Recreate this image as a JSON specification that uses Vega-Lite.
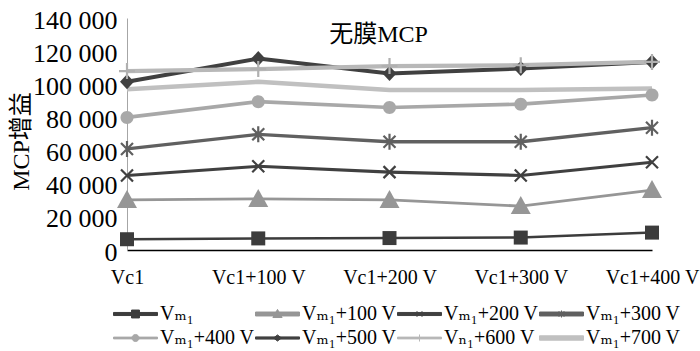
{
  "$schema": "https://vega.github.io/schema/vega-lite/v6.json",
  "width": 525,
  "height": 232,
  "autosize": "none",
  "padding": {"left": 127, "top": 18, "right": 48, "bottom": 101},
  "background": "white",
  "config": {"view": {"stroke": null}, "font": "'Liberation Serif', 'DejaVu Serif', 'Noto Sans CJK SC'"},
  "title": {"text": "无膜MCP", "fontSize": 24, "font": "'Liberation Serif', 'DejaVu Serif', 'Noto Sans CJK SC'", "fontWeight": "normal", "color": "black", "anchor": "middle", "frame": "group", "offset": -59, "baseline": "alphabetic", "dx": -11},
  "data": {"values": [
    {"series": "Vₘ₁", "x": "Vc1", "y": 6500},
    {"series": "Vₘ₁", "x": "Vc1+100 V", "y": 7000},
    {"series": "Vₘ₁", "x": "Vc1+200 V", "y": 7200},
    {"series": "Vₘ₁", "x": "Vc1+300 V", "y": 7500},
    {"series": "Vₘ₁", "x": "Vc1+400 V", "y": 10500},
    {"series": "Vₘ₁+100 V", "x": "Vc1", "y": 30200},
    {"series": "Vₘ₁+100 V", "x": "Vc1+100 V", "y": 30800},
    {"series": "Vₘ₁+100 V", "x": "Vc1+200 V", "y": 30200},
    {"series": "Vₘ₁+100 V", "x": "Vc1+300 V", "y": 26500},
    {"series": "Vₘ₁+100 V", "x": "Vc1+400 V", "y": 36200},
    {"series": "Vₘ₁+200 V", "x": "Vc1", "y": 45000},
    {"series": "Vₘ₁+200 V", "x": "Vc1+100 V", "y": 50500},
    {"series": "Vₘ₁+200 V", "x": "Vc1+200 V", "y": 47000},
    {"series": "Vₘ₁+200 V", "x": "Vc1+300 V", "y": 45000},
    {"series": "Vₘ₁+200 V", "x": "Vc1+400 V", "y": 53000},
    {"series": "Vₘ₁+300 V", "x": "Vc1", "y": 61000},
    {"series": "Vₘ₁+300 V", "x": "Vc1+100 V", "y": 69800},
    {"series": "Vₘ₁+300 V", "x": "Vc1+200 V", "y": 65300},
    {"series": "Vₘ₁+300 V", "x": "Vc1+300 V", "y": 65300},
    {"series": "Vₘ₁+300 V", "x": "Vc1+400 V", "y": 73800},
    {"series": "Vₘ₁+400 V", "x": "Vc1", "y": 80000},
    {"series": "Vₘ₁+400 V", "x": "Vc1+100 V", "y": 89500},
    {"series": "Vₘ₁+400 V", "x": "Vc1+200 V", "y": 86000},
    {"series": "Vₘ₁+400 V", "x": "Vc1+300 V", "y": 88000},
    {"series": "Vₘ₁+400 V", "x": "Vc1+400 V", "y": 93500},
    {"series": "Vₘ₁+500 V", "x": "Vc1", "y": 101500},
    {"series": "Vₘ₁+500 V", "x": "Vc1+100 V", "y": 115500},
    {"series": "Vₘ₁+500 V", "x": "Vc1+200 V", "y": 106500},
    {"series": "Vₘ₁+500 V", "x": "Vc1+300 V", "y": 109500},
    {"series": "Vₘ₁+500 V", "x": "Vc1+400 V", "y": 113500},
    {"series": "Vₙ₁+600 V", "x": "Vc1", "y": 108000},
    {"series": "Vₙ₁+600 V", "x": "Vc1+100 V", "y": 109200},
    {"series": "Vₙ₁+600 V", "x": "Vc1+200 V", "y": 111000},
    {"series": "Vₙ₁+600 V", "x": "Vc1+300 V", "y": 111500},
    {"series": "Vₙ₁+600 V", "x": "Vc1+400 V", "y": 113500},
    {"series": "Vₘ₁+700 V", "x": "Vc1", "y": 97000},
    {"series": "Vₘ₁+700 V", "x": "Vc1+100 V", "y": 101500},
    {"series": "Vₘ₁+700 V", "x": "Vc1+200 V", "y": 96500},
    {"series": "Vₘ₁+700 V", "x": "Vc1+300 V", "y": 96500},
    {"series": "Vₘ₁+700 V", "x": "Vc1+400 V", "y": 97500}
  ]},
  "encoding": {
    "x": {"field": "x", "type": "ordinal", "sort": ["Vc1", "Vc1+100 V", "Vc1+200 V", "Vc1+300 V", "Vc1+400 V"], "scale": {"type": "point", "padding": 0},
      "axis": {"title": null, "labelAngle": 0, "labelFontSize": 20, "labelColor": "black", "labelPadding": 17, "ticks": false, "grid": false, "domainColor": "black", "domainWidth": 1.5}},
    "y": {"field": "y", "type": "quantitative", "scale": {"domain": [0, 140000], "nice": false},
      "axis": {"title": "MCP增益", "titleFontSize": 24, "titleFontWeight": "normal", "titleColor": "black", "titleAngle": 270, "titleBaseline": "alphabetic", "titleAlign": "center", "titleX": -99, "titleY": 123,
        "values": [0, 20000, 40000, 60000, 80000, 100000, 120000, 140000], "labelExpr": "replace(format(datum.value, ','), ',', ' ')",
        "labelFontSize": 26, "labelColor": "black", "labelPadding": 10, "labelOffset": 2, "ticks": false, "grid": false, "domainColor": "#a6a6a6", "domainWidth": 1}}
  },
  "layer": [
    {
      "mark": {"type": "line"},
      "encoding": {
        "color": {"field": "series", "type": "nominal", "legend": null,
          "scale": {"domain": ["Vₘ₁", "Vₘ₁+100 V", "Vₘ₁+200 V", "Vₘ₁+300 V", "Vₘ₁+400 V", "Vₘ₁+500 V", "Vₙ₁+600 V", "Vₘ₁+700 V"],
            "range": ["#3c3c3c", "#969696", "#404040", "#606060", "#a8a8a8", "#404040", "#b8b8b8", "#c0c0c0"]}},
        "strokeWidth": {"field": "series", "type": "ordinal", "legend": null,
          "scale": {"domain": ["Vₘ₁", "Vₘ₁+100 V", "Vₘ₁+200 V", "Vₘ₁+300 V", "Vₘ₁+400 V", "Vₘ₁+500 V", "Vₙ₁+600 V", "Vₘ₁+700 V"],
            "range": [2.5, 4.5, 2, 3.5, 1.5, 2, 1.5, 5]}}
      }
    },
    {
      "transform": [{"filter": {"field": "series", "oneOf": ["Vₘ₁", "Vₘ₁+100 V", "Vₘ₁+400 V", "Vₘ₁+500 V"]}}],
      "mark": {"type": "point", "filled": true, "opacity": 1, "size": 400},
      "encoding": {
        "color": {"field": "series", "type": "nominal", "legend": null,
          "scale": {"domain": ["Vₘ₁", "Vₘ₁+100 V", "Vₘ₁+400 V", "Vₘ₁+500 V"], "range": ["#3c3c3c", "#969696", "#a8a8a8", "#404040"]}},
        "shape": {"field": "series", "type": "nominal", "legend": null,
          "scale": {"domain": ["Vₘ₁", "Vₘ₁+100 V", "Vₘ₁+400 V", "Vₘ₁+500 V"],
            "range": ["M-0.7,-0.7H0.7V0.7H-0.7Z", "M0,-1L1,0.8L-1,0.8Z", "M0.65,0A0.65,0.65,0,1,1,-0.65,0A0.65,0.65,0,1,1,0.65,0Z", "M0,-0.75L0.7,0L0,0.75L-0.7,0Z"]}}
      }
    },
    {
      "transform": [{"filter": {"field": "series", "oneOf": ["Vₘ₁+200 V", "Vₘ₁+300 V", "Vₙ₁+600 V"]}}],
      "mark": {"type": "point", "filled": false, "opacity": 1, "size": 400, "strokeWidth": 2.2},
      "encoding": {
        "color": {"field": "series", "type": "nominal", "legend": null,
          "scale": {"domain": ["Vₘ₁+200 V", "Vₘ₁+300 V", "Vₙ₁+600 V"], "range": ["#404040", "#606060", "#b0b0b0"]}},
        "shape": {"field": "series", "type": "nominal", "legend": null,
          "scale": {"domain": ["Vₘ₁+200 V", "Vₘ₁+300 V", "Vₙ₁+600 V"],
            "range": ["M-0.6,-0.6L0.6,0.6M-0.6,0.6L0.6,-0.6", "M-0.6,-0.6L0.6,0.6M-0.6,0.6L0.6,-0.6M0,-0.8L0,0.8", "M-0.8,0H0.8M0,-0.8V0.8"]}}
      }
    },
    {
      "mark": {"type": "point", "filled": true, "opacity": 0, "size": 10},
      "encoding": {
        "color": {"field": "series", "type": "nominal",
          "scale": {"domain": ["Vₘ₁", "Vₘ₁+100 V", "Vₘ₁+200 V", "Vₘ₁+300 V", "Vₘ₁+400 V", "Vₘ₁+500 V", "Vₙ₁+600 V", "Vₘ₁+700 V"],
            "range": ["#3c3c3c", "#969696", "#404040", "#606060", "#a8a8a8", "#404040", "#b8b8b8", "#c0c0c0"]},
          "legend": {"orient": "none", "legendX": -14, "legendY": 286, "direction": "horizontal", "columns": 4, "title": null, "padding": 0,
            "symbolSize": 1936, "clipHeight": 20, "rowPadding": 4, "columnPadding": 0, "labelOffset": 2,
            "labelFontSize": 20, "labelColor": "black", "symbolStrokeWidth": 1, "symbolFillColor": "#888888"}},
        "stroke": {"field": "series", "type": "nominal",
          "scale": {"domain": ["Vₘ₁", "Vₘ₁+100 V", "Vₘ₁+200 V", "Vₘ₁+300 V", "Vₘ₁+400 V", "Vₘ₁+500 V", "Vₙ₁+600 V", "Vₘ₁+700 V"],
            "range": ["#3c3c3c", "#969696", "#404040", "#606060", "#a8a8a8", "#404040", "#b8b8b8", "#c0c0c0"]},
          "legend": {"orient": "none", "legendX": -14, "legendY": 286, "direction": "horizontal", "columns": 4, "title": null, "padding": 0,
            "symbolSize": 1936, "clipHeight": 20, "rowPadding": 4, "columnPadding": 0, "labelOffset": 2,
            "labelFontSize": 20, "labelColor": "black", "symbolStrokeWidth": 1, "symbolFillColor": "#888888"}},
        "shape": {"field": "series", "type": "nominal",
          "scale": {"domain": ["Vₘ₁", "Vₘ₁+100 V", "Vₘ₁+200 V", "Vₘ₁+300 V", "Vₘ₁+400 V", "Vₘ₁+500 V", "Vₙ₁+600 V", "Vₘ₁+700 V"],
            "range": [
              "M-1,-0.07H1V0.07H-1Z M-0.18,-0.18H0.18V0.18H-0.18Z",
              "M-1,-0.09H1V0.09H-1Z M0,-0.21L0.21,0.16L-0.21,0.16Z",
              "M-1,-0.07H1V0.07H-1Z M-0.13,-0.13L0.13,0.13M-0.13,0.13L0.13,-0.13",
              "M-1,-0.09H1V0.09H-1Z M-0.13,-0.13L0.13,0.13M-0.13,0.13L0.13,-0.13M0,-0.16L0,0.16",
              "M-1,-0.04H1V0.04H-1Z M0.16,0A0.16,0.16,0,1,1,-0.16,0A0.16,0.16,0,1,1,0.16,0Z",
              "M-1,-0.05H1V0.05H-1Z M0,-0.14L0.18,0L0,0.14L-0.18,0Z",
              "M-1,-0.04H1V0.04H-1Z M0,-0.16V0.16",
              "M-1,-0.1H1V0.1H-1Z"
            ]},
          "legend": {"orient": "none", "legendX": -14, "legendY": 286, "direction": "horizontal", "columns": 4, "title": null, "padding": 0,
            "symbolSize": 1936, "clipHeight": 20, "rowPadding": 4, "columnPadding": 0, "labelOffset": 2,
            "labelFontSize": 20, "labelColor": "black", "symbolStrokeWidth": 1, "symbolFillColor": "#888888"}}
      }
    }
  ],
  "resolve": {"scale": {"shape": "independent", "color": "independent", "stroke": "independent"}}
}
